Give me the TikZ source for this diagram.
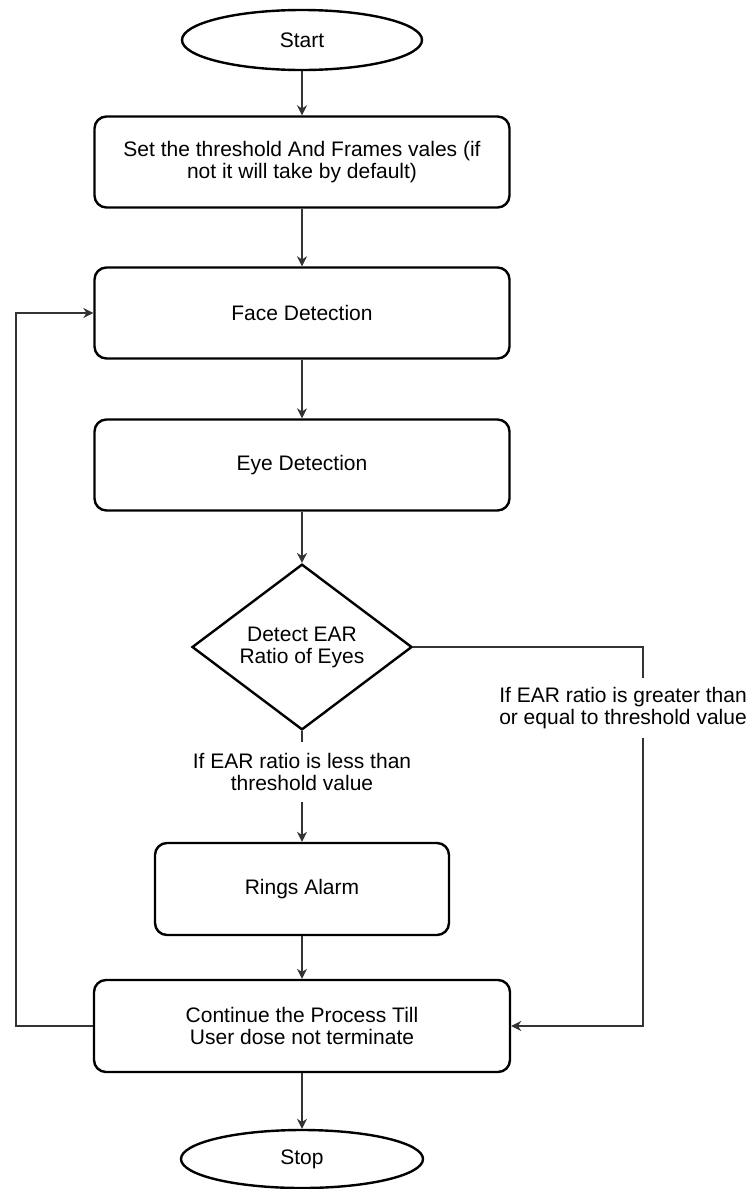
\documentclass[tikz,border=0pt]{standalone}
\usepackage{fontspec}
\setmainfont{Liberation Sans}
\usetikzlibrary{shapes.geometric,arrows.meta}

\tikzset{
	box/.style={draw=black, line width=2.4pt, rounded corners=12pt, fill=white, align=center, inner sep=0pt},
	term/.style={ellipse, draw=black, line width=2.4pt, fill=white, inner sep=0pt},
	decide/.style={diamond, draw=black, line width=2.4pt, fill=white, align=center, inner sep=0pt},
	lbl/.style={fill=white, align=center, inner sep=0pt, minimum height=60pt},
	link/.style={draw=black!80, line width=1.5pt}
}

\begin{document}
\begin{tikzpicture}[x=1pt, y=-1pt, >={Stealth[length=10pt,width=10pt]}, font=\fontsize{21}{22}\selectfont]
\useasboundingbox (0,0) rectangle (755,1189);

\node[term, minimum width=240, minimum height=60] (start) at (302,40) {Start};
\node[box, minimum width=415, minimum height=91] (setup) at (302,162) {Set the threshold And Frames vales (if\\not it will take by default)};
\node[box, minimum width=415, minimum height=91] (face) at (302,313) {Face Detection};
\node[box, minimum width=415, minimum height=91] (eye) at (302,465) {Eye Detection};
\node[decide, minimum width=220, minimum height=154] (ear) at (302,647) {Detect EAR\\Ratio of Eyes};
\node[box, minimum width=294, minimum height=92] (alarm) at (302,889) {Rings Alarm};
\node[box, minimum width=416, minimum height=92] (cont) at (302,1026) {Continue the Process Till\\User dose not terminate};
\node[term, minimum width=242, minimum height=58] (stop) at (302,1159) {Stop};

\coordinate (rturn) at (643,1026);
\coordinate (lturn) at (16,1026);

\begin{scope}[link,->]
\draw (start) -- (setup);
\draw (setup) -- (face);
\draw (face) -- (eye);
\draw (eye) -- (ear);
\draw (ear) -- node[lbl, pos=0.37] (less) {If EAR ratio is less than\\threshold value} (alarm);
\draw (ear.east) -| node[lbl, pos=0.58, xshift=-20] (more) {If EAR ratio is greater than\\or equal to threshold value} (rturn) -- (cont.east);
\draw (alarm) -- (cont);
\draw (cont) -- (stop);
\draw (cont.west) -- (lturn) |- (face.west);
\end{scope}

\end{tikzpicture}
\end{document}
